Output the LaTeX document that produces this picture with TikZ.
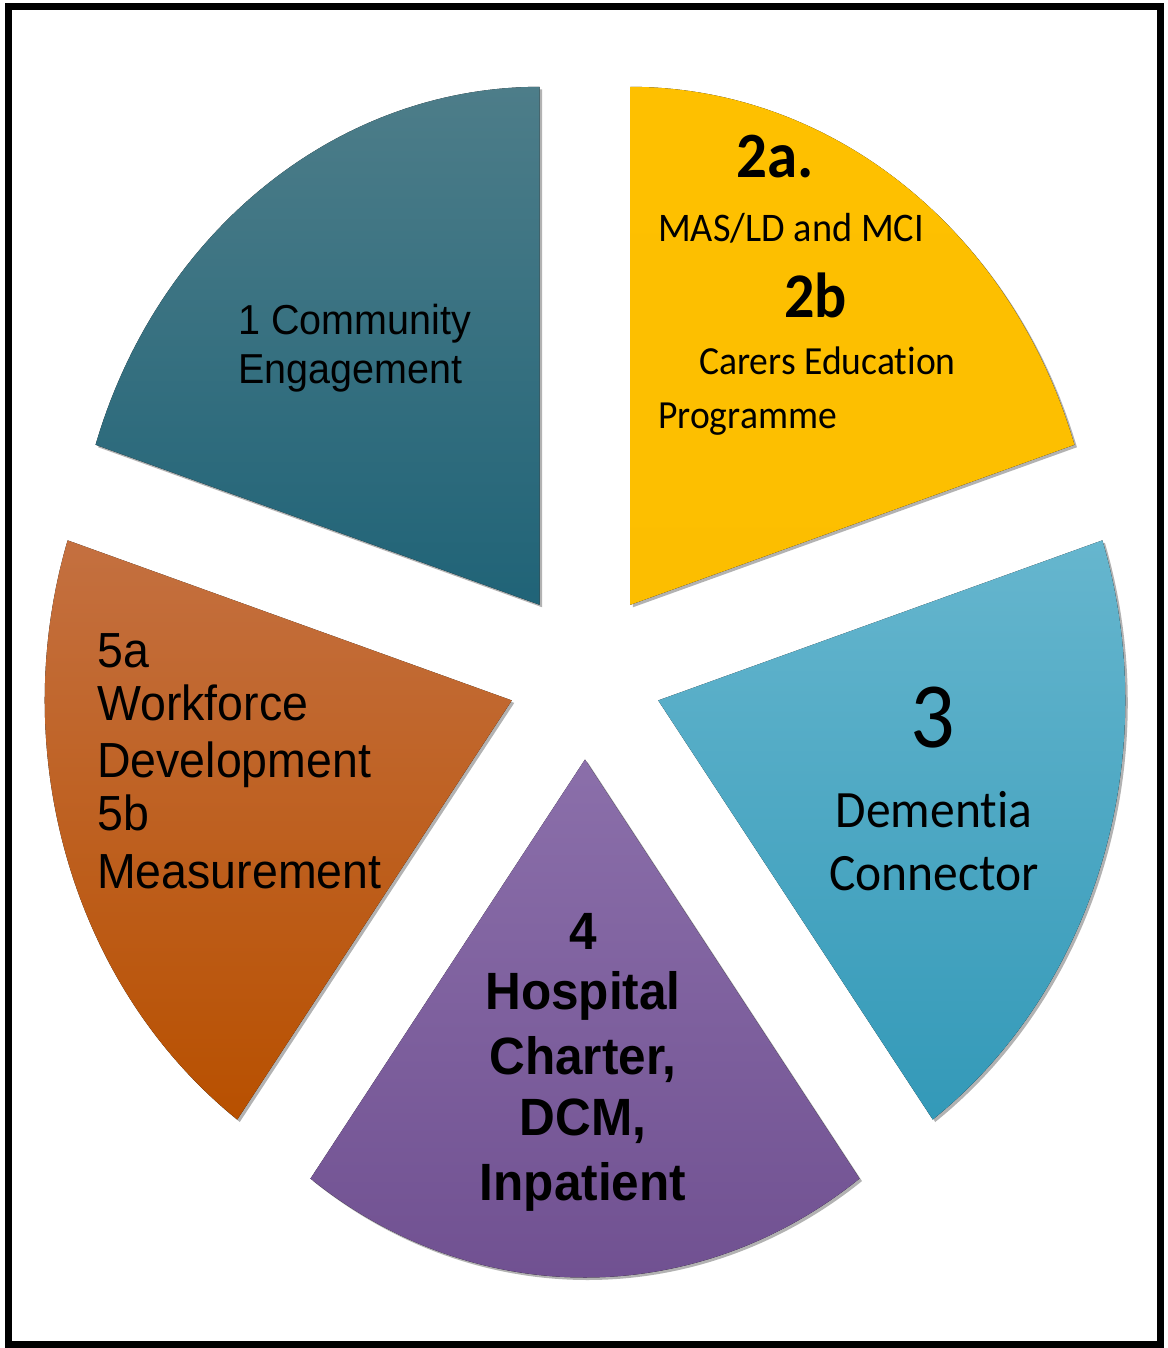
\documentclass[tikz,border=0pt]{standalone}
\usepackage{fontspec}
\usepackage{xcolor}
\usetikzlibrary{shadows}
\newfontfamily\arialfont{Liberation Sans}
\newfontfamily\calibrifont[Ligatures=NoCommon]{Carlito}
\definecolor{tealtop}{HTML}{4D7D89}
\definecolor{tealbot}{HTML}{1A6075}
\definecolor{goldtop}{HTML}{FEC000}
\definecolor{goldbot}{HTML}{FCBE00}
\definecolor{skytop}{HTML}{66B6CE}
\definecolor{skybot}{HTML}{3399B8}
\definecolor{plumtop}{HTML}{8F74AE}
\definecolor{plumbot}{HTML}{6F4F90}
\definecolor{rusttop}{HTML}{C47040}
\definecolor{rustbot}{HTML}{B85000}

\begin{document}
\begin{tikzpicture}[x=1pt, y=-1pt,
    slice/.style={drop shadow={shadow xshift=2.5pt, shadow yshift=-2.5pt, opacity=0.3, fill=black}},
    txt/.style={inner sep=0pt, yscale=1.06},
    arl/.style={txt, font=\arialfont\fontsize{#1}{#1}\selectfont},
    arlb/.style={txt, font=\arialfont\bfseries\fontsize{#1}{#1}\selectfont},
    cal/.style={txt, font=\calibrifont\fontsize{#1}{#1}\selectfont},
    calb/.style={txt, font=\calibrifont\bfseries\fontsize{#1}{#1}\selectfont}]
    \useasboundingbox (0,0) rectangle (1167,1348);
    \fill[white] (0,0) rectangle (1167,1348);
    \draw[line width=6.5pt] (8.5,6.3) rectangle (1160.7,1344.5);

    \coordinate (C) at (585,674);

    % slices, each pushed out along its middle
    \fill[slice, top color=tealtop, bottom color=tealbot]
        (C) ++(-126:77 and 85.5) -- ++(-162:467 and 518)
        arc[start angle=-162, end angle=-90, x radius=467, y radius=518] -- cycle;
    \fill[slice, top color=goldtop, bottom color=goldbot]
        (C) ++(-54:77 and 85.5) -- ++(-90:467 and 518)
        arc[start angle=-90, end angle=-18, x radius=467, y radius=518] -- cycle;
    \fill[slice, top color=skytop, bottom color=skybot]
        (C) ++(18:77 and 85.5) -- ++(-18:467 and 518)
        arc[start angle=-18, end angle=54, x radius=467, y radius=518] -- cycle;
    \fill[slice, top color=plumtop, bottom color=plumbot]
        (C) ++(90:77 and 85.5) -- ++(54:467 and 518)
        arc[start angle=54, end angle=126, x radius=467, y radius=518] -- cycle;
    \fill[slice, top color=rusttop, bottom color=rustbot]
        (C) ++(162:77 and 85.5) -- ++(126:467 and 518)
        arc[start angle=126, end angle=198, x radius=467, y radius=518] -- cycle;

    % 1
    \node[arl=39.5, anchor=base west] (t1a) at (238,334) {1 Community};
    \node[arl=39.5, anchor=base west] (t1b) at (238,383) {Engagement};

    % 2a / 2b
    \node[calb=61, anchor=base west] (t2a) at (736,178) {2a.};
    \node[cal=38.3, anchor=base west] (t2b) at (658,242) {MAS/LD and MCI};
    \node[calb=60, anchor=base west] (t2c) at (784,317) {2b};
    \node[cal=37.6, anchor=base west] (t2d) at (699,374) {Carers Education};
    \node[cal=37.6, anchor=base west] (t2e) at (658,428) {Programme};

    % 3
    \node[cal=88, anchor=base] (t3a) at (933,747) {3};
    \node[cal=49.5, anchor=base] (t3b) at (934,827) {Dementia};
    \node[cal=49.5, anchor=base] (t3c) at (934,890) {Connector};

    % 4
    \node[arlb=49.5, anchor=base] (t4a) at (583,949) {4};
    \node[arlb=49.5, anchor=base] (t4b) at (583,1009) {Hospital};
    \node[arlb=49.5, anchor=base] (t4c) at (583,1074) {Charter,};
    \node[arlb=49.5, anchor=base] (t4d) at (583,1135) {DCM,};
    \node[arlb=49.5, anchor=base] (t4e) at (583,1200) {Inpatient};

    % 5a / 5b
    \node[arl=46.5, anchor=base west] (t5a) at (97,667) {5a};
    \node[arl=46.5, anchor=base west] (t5b) at (97,720) {Workforce};
    \node[arl=46.5, anchor=base west] (t5c) at (97,777) {Development};
    \node[arl=46.5, anchor=base west] (t5d) at (97,830) {5b};
    \node[arl=46.5, anchor=base west] (t5e) at (97,888) {Measurement};
\end{tikzpicture}
\end{document}
